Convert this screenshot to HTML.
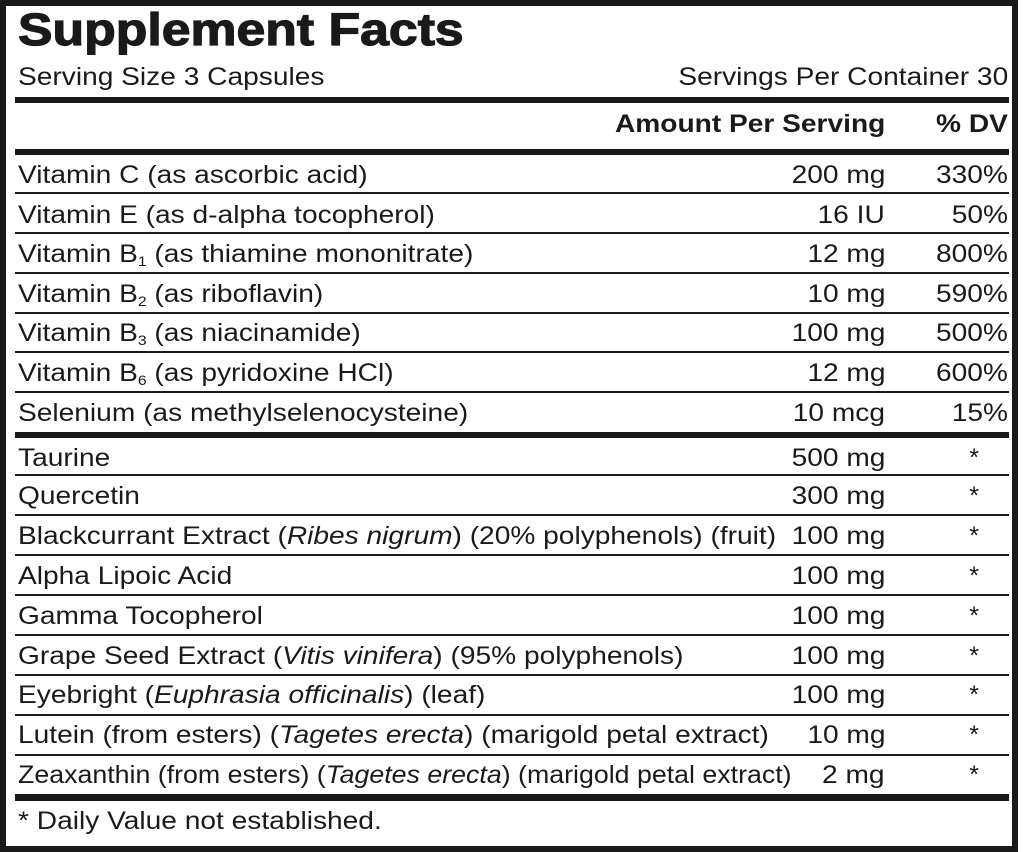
<!DOCTYPE html>
<html><head><meta charset="utf-8"><style>
*{margin:0;padding:0;box-sizing:border-box}
body{width:1024px;height:852px;background:#fff;position:relative;overflow:hidden;font-family:"Liberation Sans",Arial,sans-serif;color:#1a1a1a}
.frame{position:absolute;left:0;top:0;width:1018px;height:852px;border:6px solid #1a1a1a;border-bottom-width:6px}
.t{position:absolute;white-space:nowrap;font-size:25px;line-height:40px;height:40px}
.l{left:18px;transform:scaleX(1.125);transform-origin:left center}
.a{right:139px;text-align:right;transform:scaleX(1.125);transform-origin:right center}
.d{right:16px;text-align:right;transform:scaleX(1.125);transform-origin:right center}
.s{right:45px}
.hl{position:absolute;left:15px;width:994px;background:#1a1a1a}
sub{font-size:14px;vertical-align:-4px;line-height:0}
</style></head><body>
<div class="frame"></div>
<div class="t l" style="top:5px;font-size:45px;font-weight:bold;line-height:50px;height:50px;transform:scaleX(1.15);-webkit-text-stroke:1.2px #1a1a1a">Supplement Facts</div>
<div class="t l" style="top:57px">Serving Size 3 Capsules</div>
<div class="t d" style="top:57px">Servings Per Container 30</div>
<div class="hl" style="top:97px;height:6px"></div>
<div class="t a" style="top:104px;font-weight:bold">Amount Per Serving</div>
<div class="t d" style="top:104px;font-weight:bold">% DV</div>
<div class="hl" style="top:149px;height:6px"></div>

<div class="t l" style="top:155px">Vitamin C (as ascorbic acid)</div><div class="t a" style="top:155px">200 mg</div><div class="t d" style="top:155px">330%</div>
<div class="hl" style="top:192px;height:2px"></div>
<div class="t l" style="top:195px">Vitamin E (as d-alpha tocopherol)</div><div class="t a" style="top:195px">16 IU</div><div class="t d" style="top:195px">50%</div>
<div class="hl" style="top:232px;height:2px"></div>
<div class="t l" style="top:234px">Vitamin B<sub>1</sub> (as thiamine mononitrate)</div><div class="t a" style="top:234px">12 mg</div><div class="t d" style="top:234px">800%</div>
<div class="hl" style="top:272px;height:2px"></div>
<div class="t l" style="top:274px">Vitamin B<sub>2</sub> (as riboflavin)</div><div class="t a" style="top:274px">10 mg</div><div class="t d" style="top:274px">590%</div>
<div class="hl" style="top:312px;height:2px"></div>
<div class="t l" style="top:313px">Vitamin B<sub>3</sub> (as niacinamide)</div><div class="t a" style="top:313px">100 mg</div><div class="t d" style="top:313px">500%</div>
<div class="hl" style="top:351px;height:2px"></div>
<div class="t l" style="top:353px">Vitamin B<sub>6</sub> (as pyridoxine HCl)</div><div class="t a" style="top:353px">12 mg</div><div class="t d" style="top:353px">600%</div>
<div class="hl" style="top:391px;height:2px"></div>
<div class="t l" style="top:393px">Selenium (as methylselenocysteine)</div><div class="t a" style="top:393px">10 mcg</div><div class="t d" style="top:393px">15%</div>
<div class="hl" style="top:432px;height:6px"></div>

<div class="t l" style="top:438px">Taurine</div><div class="t a" style="top:438px">500 mg</div><div class="t s" style="top:438px">*</div>
<div class="hl" style="top:474px;height:2px"></div>
<div class="t l" style="top:476px">Quercetin</div><div class="t a" style="top:476px">300 mg</div><div class="t s" style="top:476px">*</div>
<div class="hl" style="top:514px;height:2px"></div>
<div class="t l" style="top:516px">Blackcurrant Extract (<i>Ribes nigrum</i>) (20% polyphenols) (fruit)</div><div class="t a" style="top:516px">100 mg</div><div class="t s" style="top:516px">*</div>
<div class="hl" style="top:554px;height:2px"></div>
<div class="t l" style="top:556px">Alpha Lipoic Acid</div><div class="t a" style="top:556px">100 mg</div><div class="t s" style="top:556px">*</div>
<div class="hl" style="top:594px;height:2px"></div>
<div class="t l" style="top:596px">Gamma Tocopherol</div><div class="t a" style="top:596px">100 mg</div><div class="t s" style="top:596px">*</div>
<div class="hl" style="top:634px;height:2px"></div>
<div class="t l" style="top:636px">Grape Seed Extract (<i>Vitis vinifera</i>) (95% polyphenols)</div><div class="t a" style="top:636px">100 mg</div><div class="t s" style="top:636px">*</div>
<div class="hl" style="top:674px;height:2px"></div>
<div class="t l" style="top:675px">Eyebright (<i>Euphrasia officinalis</i>) (leaf)</div><div class="t a" style="top:675px">100 mg</div><div class="t s" style="top:675px">*</div>
<div class="hl" style="top:714px;height:2px"></div>
<div class="t l" style="top:715px">Lutein (from esters) (<i>Tagetes erecta</i>) (marigold petal extract)</div><div class="t a" style="top:715px">10 mg</div><div class="t s" style="top:715px">*</div>
<div class="hl" style="top:754px;height:2px"></div>
<div class="t l" style="top:755px;transform:scaleX(1.07)">Zeaxanthin (from esters) (<i>Tagetes erecta</i>) (marigold petal extract)</div><div class="t a" style="top:755px">2 mg</div><div class="t s" style="top:755px">*</div>
<div class="hl" style="top:794px;height:7px"></div>
<div class="t l" style="top:801px">* Daily Value not established.</div>
</body></html>
